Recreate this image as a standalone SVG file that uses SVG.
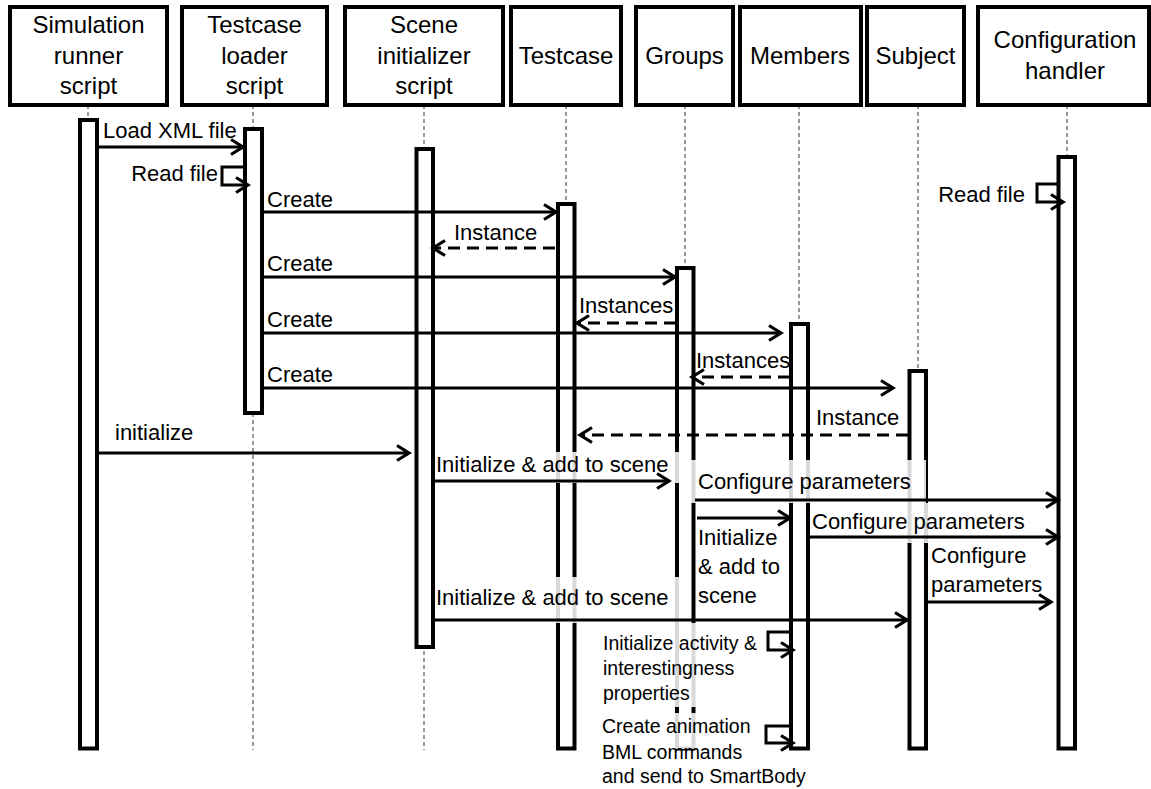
<svg xmlns="http://www.w3.org/2000/svg" width="1151" height="789" viewBox="0 0 1151 789">
  <defs>
    <style>
      .hdr rect { fill: #fff; stroke: #000; stroke-width: 4; }
      .hdr text, .lbl { font-family: "Liberation Sans", Arial, sans-serif; fill: #000; }
      .hdr text { font-size: 24px; text-anchor: middle; }
      .life { stroke: #555; stroke-width: 1.2; stroke-dasharray: 4 3; fill: none; }
      .bar { fill: #fff; stroke: #000; stroke-width: 3; }
      .wash { fill: #fff; fill-opacity: 0.85; }
      .msg { stroke: #000; stroke-width: 3; fill: none; marker-end: url(#arr); }
      .ret { stroke-dasharray: 12 7; }
      .lbl { font-size: 22px; }
      .sm { font-size: 19.5px; }
    </style>
    <marker id="arr" markerUnits="userSpaceOnUse" markerWidth="16" markerHeight="18" refX="13" refY="9" orient="auto" overflow="visible">
      <path d="M1,1.5 L13,9 L1,16.5" fill="none" stroke="#000" stroke-width="3.2"/>
    </marker>
  </defs>

  <!-- lifelines -->
  <g id="lifelines">
    <line class="life" x1="88" y1="105" x2="88" y2="750"/>
    <line class="life" x1="253" y1="105" x2="253" y2="750"/>
    <line class="life" x1="424" y1="105" x2="424" y2="750"/>
    <line class="life" x1="566" y1="105" x2="566" y2="750"/>
    <line class="life" x1="685" y1="105" x2="685" y2="750"/>
    <line class="life" x1="799" y1="105" x2="799" y2="750"/>
    <line class="life" x1="918" y1="105" x2="918" y2="750"/>
    <line class="life" x1="1067" y1="105" x2="1067" y2="750"/>
  </g>

  <!-- participants -->
  <g id="runner" class="hdr">
    <rect x="10" y="7" width="157" height="98"/>
    <text x="88.5" y="33">Simulation</text>
    <text x="88.5" y="63.5">runner</text>
    <text x="88.5" y="94">script</text>
    <rect class="bar" x="80" y="120" width="17" height="628.5"/>
  </g>
  <g id="loader" class="hdr">
    <rect x="182" y="7" width="145" height="98"/>
    <text x="254.5" y="33">Testcase</text>
    <text x="254.5" y="63.5">loader</text>
    <text x="254.5" y="94">script</text>
    <rect class="bar" x="245" y="129" width="17" height="284"/>
  </g>
  <g id="scene-init" class="hdr">
    <rect x="345" y="7" width="158" height="98"/>
    <text x="424" y="33">Scene</text>
    <text x="424" y="63.5">initializer</text>
    <text x="424" y="94">script</text>
    <rect class="bar" x="416.5" y="149" width="16.5" height="498"/>
  </g>
  <g id="testcase" class="hdr">
    <rect x="511" y="7" width="110" height="98"/>
    <text x="566" y="64">Testcase</text>
    <rect class="bar" x="558" y="204" width="16.5" height="544.5"/>
  </g>
  <g id="groups" class="hdr">
    <rect x="636" y="7" width="97" height="98"/>
    <text x="684.5" y="64">Groups</text>
    <rect class="bar" x="677" y="268" width="16.5" height="480.5"/>
  </g>
  <g id="members" class="hdr">
    <rect x="740" y="7" width="121" height="98"/>
    <text x="800" y="64">Members</text>
    <rect class="bar" x="791" y="324" width="17" height="424.5"/>
  </g>
  <g id="subject" class="hdr">
    <rect x="867" y="7" width="97" height="98"/>
    <text x="915.5" y="64">Subject</text>
    <rect class="bar" x="909.5" y="371" width="16.5" height="377.5"/>
  </g>
  <g id="config" class="hdr">
    <rect x="978" y="7" width="171" height="98"/>
    <text x="1065" y="48">Configuration</text>
    <text x="1065" y="79">handler</text>
    <rect class="bar" x="1058.5" y="157" width="16.5" height="591.5"/>
  </g>

  <!-- label backgrounds (semi-opaque) -->
  <g id="label-backgrounds">
    <rect class="wash" x="436" y="452" width="244" height="31"/>
    <rect class="wash" x="690" y="460" width="236" height="43"/>
    <rect class="wash" x="811" y="503" width="220" height="40"/>
    <rect class="wash" x="436" y="577" width="248" height="46"/>
    <rect class="wash" x="600" y="623" width="165" height="84"/>
    <rect class="wash" x="600" y="713" width="165" height="36"/>
  </g>

  <!-- messages -->
  <g id="connectors">
    <path class="msg" d="M98,147 H243"/>
    <path class="msg" d="M244,167 H222 V185 H248"/>
    <path class="msg" d="M263,212 H556"/>
    <path class="msg ret" d="M555,248 H433"/>
    <path class="msg" d="M263,277 H675"/>
    <path class="msg ret" d="M676,323 H577"/>
    <path class="msg" d="M263,333 H781"/>
    <path class="msg ret" d="M790,377 H692"/>
    <path class="msg" d="M263,388 H893"/>
    <path class="msg ret" d="M908,435 H580"/>
    <path class="msg" d="M98,453 H409"/>
    <path class="msg" d="M434,481 H669"/>
    <path class="msg" d="M695,500 H1058"/>
    <path class="msg" d="M697,518 H790"/>
    <path class="msg" d="M809,537 H1058"/>
    <path class="msg" d="M927,602 H1051"/>
    <path class="msg" d="M434,620 H907"/>
    <path class="msg" d="M1058,184 H1037 V202 H1063"/>
    <path class="msg" d="M790,632 H768 V650 H793"/>
    <path class="msg" d="M790,726 H766 V743 H793"/>
  </g>

  <!-- message labels -->
  <g id="labels" class="lbl">
    <text x="103" y="138">Load XML file</text>
    <text x="218" y="181" text-anchor="end">Read file</text>
    <text x="267" y="207">Create</text>
    <text x="454" y="240">Instance</text>
    <text x="267" y="271">Create</text>
    <text x="579" y="313">Instances</text>
    <text x="267" y="327">Create</text>
    <text x="696" y="368">Instances</text>
    <text x="267" y="382">Create</text>
    <text x="816" y="425">Instance</text>
    <text x="115" y="440">initialize</text>
    <text x="436" y="472">Initialize &amp; add to scene</text>
    <text x="698" y="489">Configure parameters</text>
    <text x="698" y="545">Initialize</text>
    <text x="698" y="574">&amp; add to</text>
    <text x="698" y="603">scene</text>
    <text x="812" y="529">Configure parameters</text>
    <text x="931" y="563">Configure</text>
    <text x="931" y="592">parameters</text>
    <text x="436" y="605">Initialize &amp; add to scene</text>
    <text x="1025" y="202" text-anchor="end">Read file</text>
    <text class="sm" x="603" y="650">Initialize activity &amp;</text>
    <text class="sm" x="603" y="675">interestingness</text>
    <text class="sm" x="603" y="700">properties</text>
    <text class="sm" x="602" y="733">Create animation</text>
    <text class="sm" x="602" y="759">BML commands</text>
    <text class="sm" x="602" y="783">and send to SmartBody</text>
  </g>
</svg>
